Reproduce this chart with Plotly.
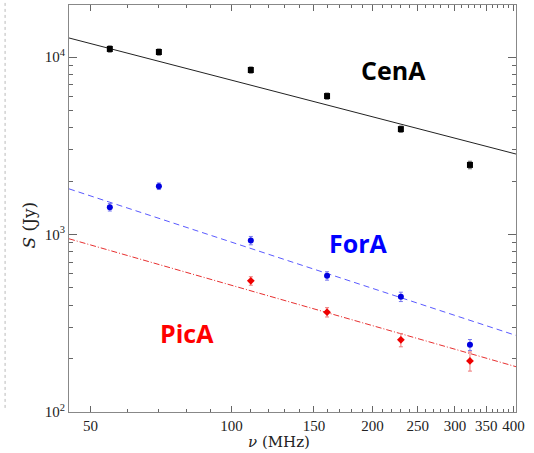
import plotly.graph_objects as go

# Frequencies (MHz)
freq_cen = [55, 70, 110, 160, 230, 323]
flux_cen = [11100, 10670, 8450, 6025, 3925, 2466]
err_cen = [450, 430, 340, 240, 160, 120]

freq_for = [55, 70, 110, 160, 230, 323]
flux_for = [1426, 1872, 925, 585, 446, 239]
err_for = [70, 80, 50, 32, 27, 17]

freq_pic = [110, 160, 230, 323]
flux_pic = [548, 365, 255, 194]
err_pic = [30, 22, 22, 24]

# Fitted power-law lines (endpoints across the plotted range)
fit_x = [45, 405]
fit_cen = [12800, 2840]
fit_for = [1808, 270]
fit_pic = [946, 180]

x_major = [50, 100, 150, 200, 250, 300, 350, 400]
x_minor = [v for v in range(50, 401, 10) if v not in x_major]
y_major = [100, 1000, 10000]
y_major_text = ["10<sup>2</sup>", "10<sup>3</sup>", "10<sup>4</sup>"]
y_minor = [m * d for d in (100, 1000, 10000) for m in range(2, 10)]

fig = go.Figure()

fig.add_trace(go.Scatter(x=fit_x, y=fit_cen, mode="lines",
                         line=dict(color="#222222", width=1), showlegend=False))
fig.add_trace(go.Scatter(x=fit_x, y=fit_for, mode="lines",
                         line=dict(color="#5a5aff", width=1, dash="6px,4px"), showlegend=False))
fig.add_trace(go.Scatter(x=fit_x, y=fit_pic, mode="lines",
                         line=dict(color="#e83030", width=1, dash="6px,2px,1px,2px"), showlegend=False))

fig.add_trace(go.Scatter(x=freq_cen, y=flux_cen, mode="markers",
                         marker=dict(symbol="square", size=6, color="black"),
                         error_y=dict(type="data", array=err_cen, color="#666666", thickness=1, width=2),
                         showlegend=False))
fig.add_trace(go.Scatter(x=freq_for, y=flux_for, mode="markers",
                         marker=dict(symbol="circle", size=6, color="#0000e0"),
                         error_y=dict(type="data", array=err_for, color="#7777ee", thickness=1, width=2),
                         showlegend=False))
fig.add_trace(go.Scatter(x=freq_pic, y=flux_pic, mode="markers",
                         marker=dict(symbol="diamond", size=6, color="#ee0000"),
                         error_y=dict(type="data", array=err_pic, color="#ee7777", thickness=1, width=2),
                         showlegend=False))

serif = "Liberation Serif, DejaVu Serif, serif"
title_serif = "DejaVu Serif, Liberation Serif, serif"
label_font = "Open Sans, Lato, sans-serif"

fig.update_layout(
    width=534, height=453,
    margin=dict(l=69, r=18, t=5, b=41),
    paper_bgcolor="white", plot_bgcolor="white",
    font=dict(family=serif, size=15, color="#222222"),
    xaxis=dict(type="log", range=[1.6532, 2.6075],
               tickvals=x_major, ticktext=[str(v) for v in x_major],
               ticks="inside", ticklen=6, tickcolor="#666666",
               showline=True, linecolor="#888888", linewidth=1, mirror="allticks",
               showgrid=False, zeroline=False,
               minor=dict(tickvals=x_minor, ticks="inside", ticklen=3, tickcolor="#666666", showgrid=False)),
    yaxis=dict(type="log", range=[2.0, 4.293],
               tickvals=y_major, ticktext=y_major_text,
               ticks="inside", ticklen=8, tickcolor="#666666",
               showline=True, linecolor="#888888", linewidth=1, mirror="allticks",
               showgrid=False, zeroline=False,
               minor=dict(tickvals=y_minor, ticks="inside", ticklen=4, tickcolor="#666666", showgrid=False)),
)

fig.add_annotation(text="<i>S</i> (Jy)", xref="paper", yref="paper", x=-0.09, y=0.46,
                   xanchor="center", yanchor="middle", textangle=-90, showarrow=False,
                   font=dict(family=title_serif, size=17, color="#222222"))
fig.add_annotation(text="<i>ν</i> (MHz)", xref="paper", yref="paper", x=0.47, y=-0.073,
                   xanchor="center", yanchor="middle", showarrow=False,
                   font=dict(family=title_serif, size=15, color="#222222"))

fig.add_annotation(text="<b>CenA</b>", xref="paper", yref="paper", x=0.727, y=0.840,
                   xanchor="center", yanchor="middle", showarrow=False,
                   font=dict(family=label_font, size=25, color="black"))
fig.add_annotation(text="<b>ForA</b>", xref="paper", yref="paper", x=0.647, y=0.415,
                   xanchor="center", yanchor="middle", showarrow=False,
                   font=dict(family=label_font, size=25, color="#0000ff"))
fig.add_annotation(text="<b>PicA</b>", xref="paper", yref="paper", x=0.265, y=0.194,
                   xanchor="center", yanchor="middle", showarrow=False,
                   font=dict(family=label_font, size=25, color="#ff0000"))

# Edge of neighbouring panel visible at left of the reference
fig.add_shape(type="line", xref="paper", yref="paper", x0=-0.143, x1=-0.143, y0=0.01, y1=1.02,
              line=dict(color="#bbbbbb", width=1, dash="dot"))

fig.write_html("out.html")
